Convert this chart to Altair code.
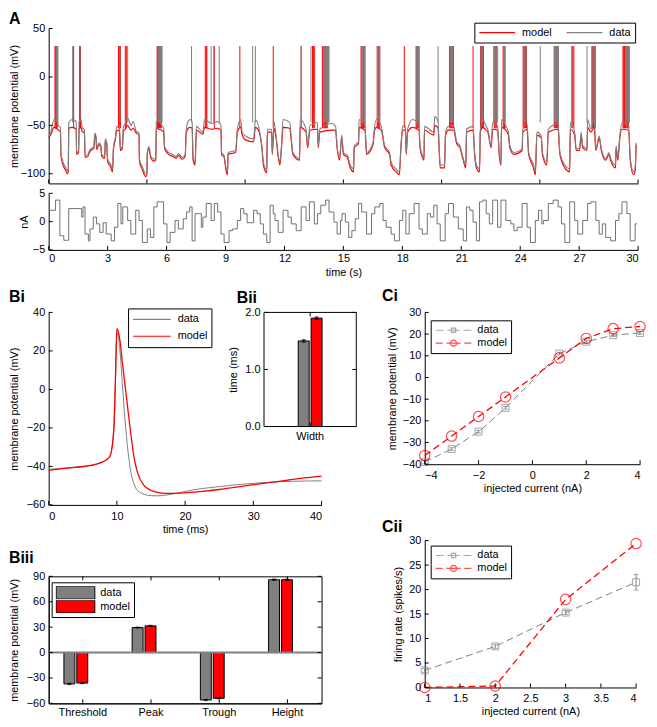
import altair as alt
import pandas as pd

FONT = "Liberation Sans"
GREY = "#808080"
RED = "#ff0000"
CURR = "#707070"
TICK = 4

# ---------------- Panel A : 30 s trace ----------------
tA = [0.00,0.10,0.27,0.45,0.50,0.60,0.62,0.70,0.85,0.95,
      1.00,1.02,1.20,1.40,1.42,1.52,1.55,1.65,1.70,1.82,
      1.85,2.00,2.05,2.20,2.30,2.35,2.40,2.45,2.55,2.65,
      2.70,2.85,2.88,2.95,3.00,3.15,3.25,3.30,3.40,3.45,
      3.60,3.65,3.75,3.80,3.90,4.00,4.20,4.30,4.45,4.60,
      4.62,4.75,4.95,5.00,5.02,5.10,5.20,5.35,5.45,5.48,
      5.60,5.75,5.85,5.90,6.10,6.30,6.50,6.60,6.80,6.95,
      7.00,7.10,7.20,7.30,7.35,7.45,7.52,7.85,7.93,8.30,
      8.60,8.77,8.80,8.93,9.02,9.10,9.13,9.52,9.60,9.77,
      9.85,10.02,10.43,10.52,10.68,10.85,10.93,11.10,11.13,11.35,
      11.38,11.47,11.57,11.68,11.77,11.85,11.93,12.27,12.35,12.43,
      12.77,12.80,13.10,13.18,13.30,13.68,13.72,13.80,14.43,14.60,
      14.68,14.80,14.92,15.00,15.20,15.35,15.52,15.55,15.77,15.80,
      16.10,16.18,16.52,16.57,16.68,16.93,17.10,17.35,17.43,17.68,
      17.85,17.93,18.02,18.15,18.20,18.27,18.52,18.85,18.90,19.02,
      19.10,19.13,19.60,19.65,19.82,19.87,19.93,20.15,20.20,20.35,
      20.60,20.77,20.93,21.10,21.23,21.27,21.60,21.68,21.77,21.93,
      21.97,22.10,22.27,22.35,22.52,22.60,22.85,22.93,23.02,23.05,
      23.27,23.40,23.47,23.68,24.10,24.13,24.35,24.43,24.68,24.77,
      24.85,25.07,25.13,25.35,25.43,25.93,26.02,26.27,26.52,26.55,
      26.77,26.85,27.02,27.10,27.18,27.40,27.43,27.60,27.77,27.85,
      28.02,28.13,28.35,28.52,28.60,28.85,28.88,28.97,29.07,29.18,
      29.52,29.60,29.77,29.85,29.90]
vA_data = [-62,-58,-44,-46,-51,-52,-78,-86,-93,-97,
           -95,-47,-44,-46,-78,-76,-46,-44,-52,-55,
           -81,-80,-77,-73,-72,-58,-60,-73,-68,-70,
           -80,-82,-64,-67,-85,-90,-95,-72,-62,-52,
           -50,-74,-72,-52,-48,-42,-50,-46,-56,-58,
           -85,-92,-100,-98,-78,-72,-82,-85,-84,-46,
           -45,-50,-53,-72,-78,-80,-82,-79,-83,-80,
           -55,-46,-44,-46,-84,-88,-51,-57,-44,-48,
           -46,-50,-78,-81,-93,-98,-78,-76,-54,-44,
           -57,-61,-64,-44,-51,-71,-88,-96,-54,-54,
           -78,-46,-60,-80,-88,-71,-44,-47,-64,-78,
           -84,-44,-54,-71,-50,-47,-71,-54,-48,-51,
           -71,-84,-60,-78,-81,-91,-95,-71,-67,-44,
           -51,-78,-67,-54,-44,-51,-71,-78,-88,-95,
           -98,-71,-51,-50,-78,-54,-44,-51,-71,-81,
           -84,-51,-57,-41,-46,-71,-91,-91,-57,-51,
           -50,-67,-71,-84,-91,-54,-51,-78,-91,-95,
           -54,-44,-51,-54,-71,-47,-51,-78,-88,-44,
           -51,-57,-71,-78,-74,-54,-48,-78,-91,-98,
           -57,-61,-78,-88,-54,-48,-78,-91,-95,-47,
           -57,-74,-74,-57,-71,-74,-44,-54,-44,-74,
           -61,-74,-84,-78,-84,-91,-71,-84,-61,-47,
           -51,-84,-98,-94,-68]
vA_model = [-63,-60,-52,-54,-55,-56,-80,-89,-96,-100,
            -98,-53,-52,-54,-80,-78,-53,-52,-56,-58,
            -83,-82,-79,-75,-74,-60,-62,-75,-70,-72,
            -82,-84,-66,-69,-87,-93,-98,-74,-64,-56,
            -55,-76,-74,-56,-54,-50,-55,-53,-58,-60,
            -87,-95,-103,-101,-80,-74,-84,-87,-86,-53,
            -54,-55,-57,-74,-80,-82,-84,-81,-85,-82,
            -58,-53,-52,-53,-86,-91,-55,-59,-52,-54,
            -53,-55,-80,-83,-96,-101,-80,-78,-57,-52,
            -60,-65,-67,-52,-55,-73,-91,-99,-57,-57,
            -80,-53,-62,-82,-91,-73,-52,-53,-66,-80,
            -86,-52,-57,-73,-55,-54,-73,-57,-55,-55,
            -73,-86,-62,-80,-83,-94,-98,-73,-69,-52,
            -55,-80,-69,-57,-52,-55,-73,-80,-91,-98,
            -101,-73,-55,-55,-80,-57,-52,-55,-73,-83,
            -86,-55,-60,-50,-53,-73,-94,-94,-60,-55,
            -55,-69,-73,-86,-94,-57,-55,-80,-94,-98,
            -57,-52,-55,-57,-73,-54,-55,-80,-91,-52,
            -55,-60,-73,-80,-76,-57,-54,-80,-94,-101,
            -60,-63,-80,-91,-57,-54,-80,-94,-98,-54,
            -60,-76,-76,-60,-73,-76,-52,-57,-52,-76,
            -63,-76,-86,-80,-86,-94,-73,-86,-63,-54,
            -55,-86,-101,-97,-70]
spk_model = [0.32,0.36,0.40,0.43,1.27,1.57,1.62,3.55,3.58,3.62,3.65,3.90,3.95,
             5.52,5.55,5.58,5.61,5.64,5.67,5.70,5.73,7.97,8.02,8.05,8.43,9.73,
             11.43,12.85,13.43,13.47,13.52,13.93,13.97,14.01,14.05,14.09,14.13,14.18,
             15.90,15.94,15.98,16.02,16.06,16.10,16.72,16.76,16.80,16.85,18.10,
             18.70,18.74,18.78,18.82,18.85,20.40,20.44,20.48,20.52,20.56,20.60,21.60,
             21.98,22.02,22.06,22.10,22.13,22.68,22.72,22.76,22.80,23.13,23.17,23.20,23.23,
             24.15,24.19,24.23,24.27,24.32,25.73,25.77,25.81,25.85,25.89,25.93,
             26.63,26.68,26.73,27.65,27.69,27.73,27.77,27.82,
             29.23,29.27,29.31,29.35,29.39,29.43,29.47,29.52]
spk_data = [0.40,0.44,0.47,1.22,1.60,3.63,4.02,5.57,5.60,5.63,5.66,5.69,5.72,5.77,
            7.27,8.27,8.40,8.68,10.38,10.52,12.85,13.35,
            14.00,14.04,14.08,14.12,14.16,14.20,14.24,14.27,15.92,15.96,16.00,16.04,16.08,
            16.75,16.80,16.85,18.72,18.76,18.80,18.84,19.82,20.42,20.46,20.50,20.54,20.58,
            22.00,22.05,22.10,22.65,22.70,22.75,22.80,22.85,23.15,23.20,24.20,24.25,24.30,
            25.02,25.75,25.80,25.85,25.90,25.95,26.70,27.40,27.70,27.75,27.80,
            29.35,29.40,29.44,29.48,29.52,29.56]
SPIKE_BASE = -53
SPIKE_PEAK = 32
I_t = [0.00,0.35,0.57,0.77,1.02,1.68,1.75,1.85,2.02,2.10,
       2.27,2.43,2.60,2.77,2.93,3.18,3.35,3.52,3.68,3.77,
       4.02,4.18,4.43,4.60,4.77,5.02,5.18,5.35,5.52,5.85,
       6.02,6.18,6.43,6.60,6.85,7.02,7.18,7.30,7.45,7.77,
       7.85,8.02,8.27,8.43,8.60,8.77,8.93,9.18,9.35,9.60,
       9.77,9.93,10.10,10.43,10.60,10.77,10.93,11.10,11.27,11.43,
       11.52,11.68,11.93,12.18,12.35,12.60,12.85,13.10,13.27,13.52,
       13.68,13.85,14.10,14.27,14.52,14.68,14.85,14.93,15.10,15.27,
       15.43,15.60,15.77,15.93,16.18,16.43,16.60,16.85,17.02,17.18,
       17.43,17.60,17.85,18.02,18.18,18.35,18.60,18.85,19.02,19.27,
       19.43,19.60,19.77,19.93,20.18,20.35,20.60,20.85,21.10,21.27,
       21.43,21.60,21.77,21.93,22.10,22.27,22.43,22.60,22.85,23.02,
       23.27,23.52,23.68,23.85,24.10,24.35,24.52,24.77,24.93,25.10,
       25.18,25.43,25.68,25.93,26.10,26.27,26.52,26.77,26.93,27.18,
       27.43,27.60,27.85,28.02,28.18,28.35,28.60,28.85,29.02,29.18,
       29.43,29.60,29.85,29.95]
I_v = [2.0,3.8,-2.5,-3.3,2.3,0.8,2.6,-2.2,-3.4,-1.3,
       0.8,-0.4,-1.9,-0.2,-2.2,-3.4,-1.0,3.2,-0.4,2.6,
       0.2,-2.2,2.0,0.2,-3.7,-1.3,-2.8,2.6,3.5,-0.4,
       -3.7,-1.9,0.2,-1.3,0.5,1.7,2.6,-3.4,1.4,-1.0,
       0.8,3.2,0.2,3.2,1.7,-2.2,-3.7,-1.6,-1.3,0.2,
       2.3,1.4,-0.2,2.0,1.4,-0.4,-2.2,-3.7,2.9,1.4,
       0.2,-1.9,2.0,0.8,-0.4,-1.6,2.6,0.2,3.5,-0.4,
       1.4,2.9,3.8,1.7,-0.1,-2.2,0.2,1.4,-0.1,-2.8,
       -1.6,0.5,3.2,1.7,-2.2,1.4,2.6,3.2,0.2,-1.0,
       -2.2,-3.4,0.2,2.0,-2.2,1.4,3.2,-1.3,-2.2,1.4,
       0.8,2.9,-0.4,-3.4,1.4,3.2,0.8,-1.3,-3.4,2.6,
       2.0,-0.1,-3.4,3.5,3.8,1.4,-0.4,3.8,-1.0,3.8,
       0.2,-0.4,-1.6,-1.0,3.2,-1.0,-3.7,0.2,2.0,-0.4,
       0.2,3.2,3.8,2.6,-0.4,-3.7,3.5,0.2,-2.2,0.2,
       3.2,3.5,0.2,-2.2,-0.4,-2.8,-3.4,0.2,1.4,3.5,
       1.4,-3.4,-0.4,-0.4]
A_xticks = [0, 5, 10, 15, 20, 25, 30]
A_yticks = [-100, -50, 0, 50]
A2_xticks = [0, 3, 6, 9, 12, 15, 18, 21, 24, 27, 30]
A2_yticks = [-5, 0, 5]

# ---------------- Panel Bi : average spike ----------------
t_bi = [0, 2, 4, 6, 7, 8, 8.5, 9, 9.2, 9.4, 9.6, 9.8, 10, 10.2, 10.5, 10.8, 11.1, 11.5,
        12, 12.5, 13, 14, 15, 16, 17, 18, 20, 22.5, 25, 27.5, 30, 32.5, 35, 37.5, 40]
v_bi_data = [-41.5, -41, -40.3, -39.5, -38.8, -37.5, -36.5, -34.5, -32, -27, -18, 5, 29.5,
             27, 18, 3, -12, -28, -42, -49, -52.5, -54.5, -55.2, -55.3, -55, -54.5, -53,
             -51.5, -50.5, -49.5, -48.8, -48.2, -47.8, -47.6, -47.5]
v_bi_model = [-42, -41.2, -40.5, -39.6, -38.8, -37.5, -36.5, -34.5, -32, -27, -17, 8, 31.5,
              30, 24, 14, 5, -7, -22, -35, -43, -50, -52.5, -53.5, -54, -54, -53.8,
              -53, -52, -50.8, -49.5, -48.3, -47.2, -46, -45]
Bi_xticks = [0, 10, 20, 30, 40]
Bi_yticks = [-60, -40, -20, 0, 20, 40]

# ---------------- Panel Bii : spike width ----------------
bii_cat = ["Width", "Width"]
bii_series = ["data", "model"]
bii_val = [1.50, 1.90]
bii_err = [0.02, 0.02]
Bii_yticks = [0, 1, 2]

# ---------------- Panel Biii : spike features ----------------
biii_cats = ["Threshold", "Peak", "Trough", "Height"]
biii_data = [-37, 29.5, -56, 86]
biii_model = [-36, 31.5, -54, 86]
biii_err_data = [0.8, 0.6, 0.6, 0.7]
biii_err_model = [0.6, 0.6, 0.6, 0.7]
Biii_yticks = [-60, -30, 0, 30, 60, 90]

# ---------------- Panel Ci : V-I ----------------
ci_x = [-4, -3, -2, -1, 1, 2, 3, 4]
ci_data = [-39, -33, -25, -14, 11, 16.5, 19.5, 20.5]
ci_data_err = [0.8, 0.6, 0.6, 0.6, 0.6, 0.6, 0.6, 0.6]
ci_model = [-36, -27, -18, -9, 9, 18, 22.5, 23.5]
Ci_xticks = [-4, -2, 0, 2, 4]
Ci_yticks = [-40, -30, -20, -10, 0, 10, 20, 30]

# ---------------- Panel Cii : f-I ----------------
cii_x = [1, 2, 3, 4]
cii_data = [3.5, 8.4, 15.3, 21.5]
cii_data_err = [0.4, 0.4, 0.4, 1.6]
cii_model = [0, 0.3, 18, 29.4]
Cii_xticks = [1, 1.5, 2, 2.5, 3, 3.5, 4]
Cii_yticks = [0, 5, 10, 15, 20, 25, 30]

SERIES = ["data", "model"]
PATH_SQ = "M-1,0H-0.55M-0.35,0H0.35M0.55,0H1M-0.12,-0.12H0.12V0.12H-0.12Z"
PATH_CI = "M-1,0H-0.6M-0.4,0H0.4M0.6,0H1M-0.17,0A0.17,0.17 0 1,0 0.17,0A0.17,0.17 0 1,0 -0.17,0"
PATH_RECT = "M-1,-0.33H1V0.33H-1Z"


def tx(vals, field, ftype, scale, axis, h, top=False):
    return alt.Chart(pd.DataFrame({field: vals})).mark_rule(color="black", strokeWidth=1).encode(
        x=alt.X(f"{field}:{ftype}", scale=scale, axis=axis),
        y=alt.value(0 if top else h), y2=alt.value(TICK if top else h - TICK))


def ty(vals, field, scale, axis, x0, inward=1):
    return alt.Chart(pd.DataFrame({field: vals})).mark_rule(color="black", strokeWidth=1).encode(
        y=alt.Y(f"{field}:Q", scale=scale, axis=axis),
        x=alt.value(x0), x2=alt.value(x0 + inward * TICK))


def ptitle(text, dx, offset):
    return alt.TitleParams(text=text, anchor="start", frame="group", dx=dx, offset=offset,
                           fontSize=16, fontWeight="bold", font=FONT, color="black")


BOX = alt.ViewBackground(stroke="black", strokeWidth=1, fill="white")

# ---------- A top ----------
WA, HA, HA2 = 594, 156, 57
xA = alt.Scale(domain=[0, 30], nice=False, zero=False)
yA = alt.Scale(domain=[-110, 50], nice=False, zero=False)
axA_x = alt.Axis(values=A_xticks, labels=False, title=None)
axA_y = alt.Axis(values=A_yticks, title="membrane potential (mV)", titleX=-34, titleBaseline="middle")
sA = alt.Scale(domain=["model", "data"], range=[RED, GREY])
legA = alt.Legend(title=None, orient="none", legendX=429, legendY=-6, direction="horizontal",
                  columns=2, symbolType="stroke", symbolSize=1296, symbolStrokeWidth=1.2,
                  strokeColor="black", fillColor="white", padding=4, columnPadding=14,
                  labelOffset=6, clipHeight=12)
dfAm = pd.DataFrame({"t": tA, "v": vA_model, "s": ["model"] * len(tA)})
dfAd = pd.DataFrame({"t": tA, "v": vA_data, "s": ["data"] * len(tA)})
lineAm = alt.Chart(dfAm).mark_line(strokeWidth=1.2, interpolate="monotone").encode(
    x=alt.X("t:Q", scale=xA, axis=axA_x), y=alt.Y("v:Q", scale=yA, axis=axA_y),
    color=alt.Color("s:N", scale=sA, legend=legA))
lineAd = alt.Chart(dfAd).mark_line(strokeWidth=1.1, interpolate="monotone").encode(
    x=alt.X("t:Q", scale=xA, axis=axA_x), y=alt.Y("v:Q", scale=yA, axis=axA_y),
    color=alt.Color("s:N", scale=sA, legend=legA))
spkAm = alt.Chart(pd.DataFrame({"t": spk_model, "v": [SPIKE_BASE] * len(spk_model),
                                "hi": [SPIKE_PEAK] * len(spk_model)})).mark_rule(
    color=RED, strokeWidth=1).encode(x=alt.X("t:Q", scale=xA, axis=axA_x),
                                     y=alt.Y("v:Q", scale=yA, axis=axA_y), y2="hi:Q")
spkAd = alt.Chart(pd.DataFrame({"t": spk_data, "v": [SPIKE_BASE + 6] * len(spk_data),
                                "hi": [SPIKE_PEAK] * len(spk_data)})).mark_rule(
    color=GREY, strokeWidth=1).encode(x=alt.X("t:Q", scale=xA, axis=axA_x),
                                      y=alt.Y("v:Q", scale=yA, axis=axA_y), y2="hi:Q")
A_top = alt.layer(
    lineAm, spkAm, lineAd, spkAd,
    tx(A_xticks, "t", "Q", xA, axA_x, HA),
    ty(A_yticks, "v", yA, axA_y, 0),
).properties(width=WA, height=HA, title=ptitle("A", -40, -5))

# ---------- A bottom ----------
yA2 = alt.Scale(domain=[-5, 5], nice=False, zero=False)
axA2_x = alt.Axis(values=A2_xticks, title="time (s)", labelPadding=3, titlePadding=3)
axA2_y = alt.Axis(values=A2_yticks, title="nA", titleX=-24, titleBaseline="middle")
lineI = alt.Chart(pd.DataFrame({"t": I_t, "i": I_v})).mark_line(
    interpolate="step-after", color=CURR, strokeWidth=1).encode(
    x=alt.X("t:Q", scale=xA, axis=axA2_x), y=alt.Y("i:Q", scale=yA2, axis=axA2_y))
A_bot = alt.layer(
    lineI,
    tx(A2_xticks, "t", "Q", xA, axA2_x, HA2),
    ty(A2_yticks, "i", yA2, axA2_y, 0),
).properties(width=WA, height=HA2)

# ---------- Bi (with Bii inset) ----------
WBi, HBi = 275, 194
xBi = alt.Scale(domain=[0, 40], nice=False, zero=False)
yBi = alt.Scale(domain=[-60, 40], nice=False, zero=False)
axBi_x = alt.Axis(values=Bi_xticks, title="time (ms)", labelPadding=6, titlePadding=2)
axBi_y = alt.Axis(values=Bi_yticks, title="membrane potential (mV)", titleX=-34, titleBaseline="middle")
sBi = alt.Scale(domain=SERIES, range=[GREY, RED])
legBi = alt.Legend(title=None, orient="none", legendX=80, legendY=-4, direction="vertical",
                   symbolType="stroke", symbolSize=1444, symbolStrokeWidth=1.2,
                   strokeColor="black", fillColor="white", padding=4, labelOffset=6,
                   clipHeight=14, rowPadding=3)
dfBid = pd.DataFrame({"t": t_bi, "v": v_bi_data, "s": ["data"] * len(t_bi)})
dfBim = pd.DataFrame({"t": t_bi, "v": v_bi_model, "s": ["model"] * len(t_bi)})
lineBid = alt.Chart(dfBid).mark_line(strokeWidth=1, interpolate="monotone").encode(
    x=alt.X("t:Q", scale=xBi, axis=axBi_x), y=alt.Y("v:Q", scale=yBi, axis=axBi_y),
    color=alt.Color("s:N", scale=sBi, legend=legBi))
lineBim = alt.Chart(dfBim).mark_line(strokeWidth=1.3, interpolate="monotone").encode(
    x=alt.X("t:Q", scale=xBi, axis=axBi_x), y=alt.Y("v:Q", scale=yBi, axis=axBi_y),
    color=alt.Color("s:N", scale=sBi, legend=legBi))
BiLayer = alt.layer(
    lineBid, lineBim,
    tx(Bi_xticks, "t", "Q", xBi, axBi_x, HBi),
    ty(Bi_yticks, "v", yBi, axBi_y, 0),
)

# inset Bii occupies pixels XB..XB2 horizontally and 0..HB vertically inside Bi
XB, XB2, HB = 217, 310, 115
xBii = alt.Scale(domain=["Width"], range=[XB, XB2], paddingInner=0.304, paddingOuter=1)
oBii = alt.Scale(domain=SERIES, paddingInner=0.15)
yBii = alt.Scale(domain=[0, 2], range=[HB, 0], nice=False, zero=False)
axBii_x = alt.Axis(orient="bottom", offset=-(HBi - HB), domain=False, labelAngle=0, labelPadding=4,
                   title="Bii", titleX=XB - 28, titleY=-(HB + 10), titleAlign="left", titleAngle=0,
                   titleBaseline="alphabetic", titleFontSize=16, titleFontWeight="bold")
axBii_y = alt.Axis(orient="left", offset=-XB, values=Bii_yticks, title="time (ms)", domain=False)
dfBii = pd.DataFrame({"cat": bii_cat, "s": bii_series, "v": bii_val,
                      "lo": [a - b for a, b in zip(bii_val, bii_err)],
                      "hi": [a + b for a, b in zip(bii_val, bii_err)]})
boxBii = alt.Chart(pd.DataFrame({"cat": ["Width"]})).mark_rect(
    fill="white", stroke="black", strokeWidth=1).encode(
    x=alt.value(XB), x2=alt.value(XB2), y=alt.value(0), y2=alt.value(HB))
XBii = alt.X("cat:N", scale=xBii, axis=axBii_x)
OBii = alt.XOffset("s:N", scale=oBii)
barsBii = alt.Chart(dfBii).mark_bar(stroke="black", strokeWidth=1).encode(
    x=XBii, xOffset=OBii, y=alt.Y("v:Q", scale=yBii, axis=axBii_y),
    color=alt.Color("s:N", scale=sBi, legend=None))
errBii = alt.Chart(dfBii).mark_rule(color="black", strokeWidth=1.2).encode(
    x=XBii, xOffset=OBii, y=alt.Y("lo:Q", scale=yBii, axis=axBii_y), y2="hi:Q")
capBii = alt.Chart(dfBii).mark_tick(color="black", thickness=1.2, size=4, orient="horizontal").encode(
    x=XBii, xOffset=OBii, y=alt.Y("hi:Q", scale=yBii, axis=axBii_y))
capBii2 = alt.Chart(dfBii).mark_tick(color="black", thickness=1.2, size=4, orient="horizontal").encode(
    x=XBii, xOffset=OBii, y=alt.Y("lo:Q", scale=yBii, axis=axBii_y))
BiiLayer = alt.layer(
    boxBii, barsBii, errBii, capBii, capBii2,
    ty(Bii_yticks, "v", yBii, axBii_y, XB, 1),
    ty(Bii_yticks, "v", yBii, axBii_y, XB2, -1),
    tx(["Width"], "cat", "N", xBii, axBii_x, HB),
    tx(["Width"], "cat", "N", xBii, axBii_x, HB, top=True),
)
BiC = alt.layer(BiLayer, BiiLayer).resolve_scale(
    x="independent", y="independent", color="independent"
).properties(width=WBi, height=HBi, title=ptitle("Bi", -40, -16))

# ---------- Biii ----------
WB3, HB3 = 275, 128
xB3 = alt.Scale(domain=biii_cats, paddingInner=0.447, paddingOuter=0.2235)
oB3 = alt.Scale(domain=SERIES, paddingInner=0.2)
yB3 = alt.Scale(domain=[-60, 90], nice=False, zero=False)
axB3_x = alt.Axis(title=None, labelAngle=0, labelPadding=3)
axB3_y = alt.Axis(values=Biii_yticks, title="membrane potential (mV)", titleX=-34, titleBaseline="middle")
n3 = len(biii_cats)
dfB3 = pd.DataFrame({
    "cat": biii_cats * 2,
    "s": ["data"] * n3 + ["model"] * n3,
    "v": biii_data + biii_model,
    "lo": [a - b for a, b in zip(biii_data, biii_err_data)] + [a - b for a, b in zip(biii_model, biii_err_model)],
    "hi": [a + b for a, b in zip(biii_data, biii_err_data)] + [a + b for a, b in zip(biii_model, biii_err_model)],
})
legB3 = alt.Legend(title=None, orient="none", legendX=3, legendY=6, direction="vertical",
                   symbolType=PATH_RECT, symbolSize=1521, symbolStrokeColor="black",
                   symbolStrokeWidth=1, strokeColor="black", fillColor="white", padding=4,
                   labelOffset=5, clipHeight=13, rowPadding=1)
XB3 = alt.X("cat:N", scale=xB3, axis=axB3_x, sort=biii_cats)
OB3 = alt.XOffset("s:N", scale=oB3)
barsB3 = alt.Chart(dfB3).mark_bar(stroke="black", strokeWidth=1).encode(
    x=XB3, xOffset=OB3, y=alt.Y("v:Q", scale=yB3, axis=axB3_y),
    color=alt.Color("s:N", scale=sBi, legend=legB3))
errB3 = alt.Chart(dfB3).mark_rule(color="black", strokeWidth=1.2).encode(
    x=XB3, xOffset=OB3, y=alt.Y("lo:Q", scale=yB3, axis=axB3_y), y2="hi:Q")
capB3 = alt.Chart(dfB3).mark_tick(color="black", thickness=1.2, size=4, orient="horizontal").encode(
    x=XB3, xOffset=OB3, y=alt.Y("hi:Q", scale=yB3, axis=axB3_y))
capB3b = alt.Chart(dfB3).mark_tick(color="black", thickness=1.2, size=4, orient="horizontal").encode(
    x=XB3, xOffset=OB3, y=alt.Y("lo:Q", scale=yB3, axis=axB3_y))
baseB3 = alt.Chart(pd.DataFrame({"v": [0]})).mark_rule(color=GREY, strokeWidth=2).encode(
    y=alt.Y("v:Q", scale=yB3, axis=axB3_y), x=alt.value(0), x2=alt.value(WB3))
Biii = alt.layer(
    barsB3, baseB3, errB3, capB3, capB3b,
    ty(Biii_yticks, "v", yB3, axB3_y, 0, 1),
    ty(Biii_yticks, "v", yB3, axB3_y, WB3, -1),
    tx(biii_cats, "cat", "N", xB3, axB3_x, HB3),
    tx(biii_cats, "cat", "N", xB3, axB3_x, HB3, top=True),
).properties(width=WB3, height=HB3, title=ptitle("Biii", -40, 4), view=BOX)


# ---------- C panels helper ----------
def c_panel(xs, dvals, derr, mvals, xdom, ydom, xticks, yticks, xaxis, yaxis, W, H, leg_y, title):
    xs_ = alt.Scale(domain=xdom, nice=False, zero=False)
    ys_ = alt.Scale(domain=ydom, nice=False, zero=False)
    dfd = pd.DataFrame({"x": xs, "y": dvals,
                        "lo": [a - b for a, b in zip(dvals, derr)],
                        "hi": [a + b for a, b in zip(dvals, derr)]})
    dfm = pd.DataFrame({"x": xs, "y": mvals})
    X = alt.X("x:Q", scale=xs_, axis=xaxis)
    Y = alt.Y("y:Q", scale=ys_, axis=yaxis)
    ld = alt.Chart(dfd).mark_line(color=GREY, strokeWidth=1, strokeDash=[7, 4]).encode(x=X, y=Y)
    eb = alt.Chart(dfd).mark_rule(color=GREY, strokeWidth=1).encode(
        x=X, y=alt.Y("lo:Q", scale=ys_, axis=yaxis), y2="hi:Q")
    ebc1 = alt.Chart(dfd).mark_tick(color=GREY, thickness=1, size=5, orient="horizontal").encode(
        x=X, y=alt.Y("hi:Q", scale=ys_, axis=yaxis))
    ebc2 = alt.Chart(dfd).mark_tick(color=GREY, thickness=1, size=5, orient="horizontal").encode(
        x=X, y=alt.Y("lo:Q", scale=ys_, axis=yaxis))
    pd_ = alt.Chart(dfd).mark_point(shape="square", filled=False, color=GREY, size=49,
                                    strokeWidth=1).encode(x=X, y=Y)
    lm = alt.Chart(dfm).mark_line(color=RED, strokeWidth=1.3, strokeDash=[7, 4]).encode(x=X, y=Y)
    pm = alt.Chart(dfm).mark_point(shape="circle", filled=False, color=RED, size=110,
                                   strokeWidth=1.2).encode(x=X, y=Y)
    leg = alt.Legend(title=None, orient="none", legendX=6, legendY=leg_y, direction="vertical",
                     symbolSize=1296, symbolStrokeWidth=1.2, strokeColor="black",
                     fillColor="white", padding=4, labelOffset=5, clipHeight=12, rowPadding=1)
    dfl = pd.DataFrame({"x": [xs[0], xs[0]], "y": [dvals[0], mvals[0]], "s": SERIES})
    lg = alt.Chart(dfl).transform_filter("false").mark_point(filled=False, size=1296, strokeWidth=1.2).encode(
        x=X, y=Y,
        color=alt.Color("s:N", scale=alt.Scale(domain=SERIES, range=[GREY, RED]), legend=leg),
        shape=alt.Shape("s:N", scale=alt.Scale(domain=SERIES, range=[PATH_SQ, PATH_CI]), legend=leg))
    return alt.layer(
        ld, eb, ebc1, ebc2, pd_, lm, pm, lg,
        tx(xticks, "x", "Q", xs_, xaxis, H),
        ty(yticks, "y", ys_, yaxis, 0),
    ).properties(width=W, height=H, title=title)


Ci = c_panel(ci_x, ci_data, ci_data_err, ci_model, [-4, 4], [-40, 30], Ci_xticks, Ci_yticks,
             alt.Axis(values=Ci_xticks, title="injected current (nA)", labelPadding=5, titlePadding=2),
             alt.Axis(values=Ci_yticks, title="membrane potential (mV)", titleX=-32, titleBaseline="middle"),
             217, 153, 8, ptitle("Ci", -43, 2))
Cii = c_panel(cii_x, cii_data, cii_data_err, cii_model, [1, 4], [0, 30], Cii_xticks, Cii_yticks,
              alt.Axis(values=Cii_xticks, format="~g", title="injected current (nA)", labelPadding=5, titlePadding=2),
              alt.Axis(values=Cii_yticks, title="firing rate (spikes/s)", titleX=-26, titleBaseline="middle"),
              213, 148, 5, ptitle("Cii", -43, 0))

RES = dict(color="independent", shape="independent")
topA = alt.vconcat(A_top, A_bot, spacing=10, bounds="flush").resolve_scale(**RES)
left = alt.vconcat(BiC, Biii, spacing=72, bounds="flush").resolve_scale(**RES)
right = alt.vconcat(Ci, Cii, spacing=77, bounds="flush").resolve_scale(**RES)
row = alt.hconcat(left, right, spacing=24).resolve_scale(**RES)
chart = alt.vconcat(topA, row, spacing=9).resolve_scale(**RES).properties(padding=0)

chart = chart.configure_axis(
    labelFont=FONT, titleFont=FONT, labelFontSize=11, titleFontSize=11,
    labelColor="black", titleColor="black", domainColor="black", domainWidth=1,
    ticks=False, grid=False, labelPadding=4, titlePadding=6, titleFontWeight="normal",
).configure_legend(labelFont=FONT, labelFontSize=11, labelColor="black").configure_view(
    stroke="transparent").configure_title(font=FONT)

chart.save("out.html", embed_options={"renderer": "svg", "actions": False})
